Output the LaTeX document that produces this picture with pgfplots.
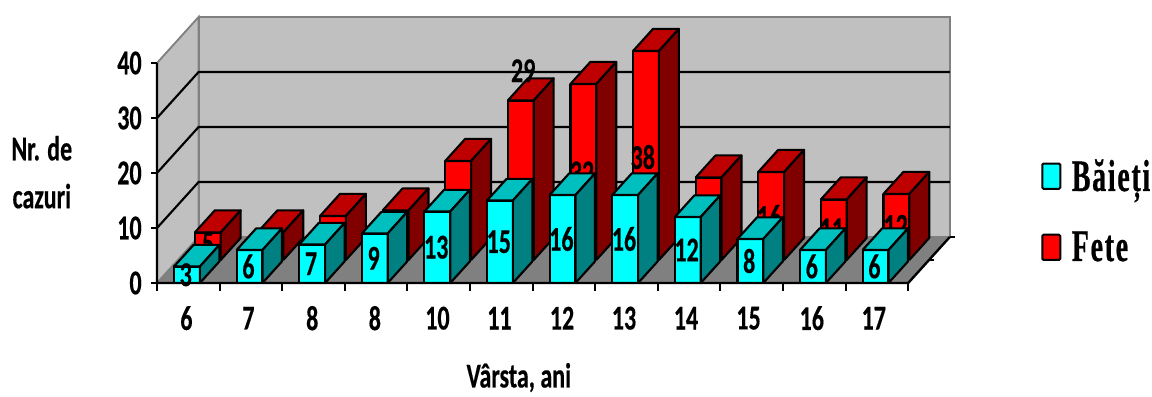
\documentclass[border=0pt]{standalone}
\usepackage{fontspec}
\usepackage{graphicx}
\usepackage{pgfplots}
\pgfplotsset{compat=1.18}
\setmainfont{Carlito}[BoldFeatures={FakeBold=0.5}]
\newfontfamily\legfont{Liberation Serif}[LetterSpace=6,BoldFeatures={FakeBold=0.8}]
\definecolor{wall}{HTML}{C0C0C0}
\definecolor{floorc}{HTML}{808080}
\definecolor{cyanF}{HTML}{00FFFF}
\definecolor{cyanT}{HTML}{00BFBF}
\definecolor{cyanS}{HTML}{008080}
\definecolor{redF}{HTML}{FF0000}
\definecolor{redT}{HTML}{BF0000}
\definecolor{redS}{HTML}{800000}
% tall, narrow bold lettering used for every label of the chart
\newcommand\lab[1]{\scalebox{1}[1.45]{\fontsize{18}{18}\selectfont\bfseries #1}}
% one cuboid: x0 x1 y0 y1 height front top side
\newcommand\cuboid[8]{%
  \addplot3[forget plot,draw=black,line width=1.6pt,line join=round,fill=#6] coordinates {(#1,#3,0)(#2,#3,0)(#2,#3,#5)(#1,#3,#5)(#1,#3,0)};
  \addplot3[forget plot,draw=black,line width=1.6pt,line join=round,fill=#7] coordinates {(#1,#3,#5)(#2,#3,#5)(#2,#4,#5)(#1,#4,#5)(#1,#3,#5)};
  \addplot3[forget plot,draw=black,line width=1.6pt,line join=round,fill=#8] coordinates {(#2,#3,0)(#2,#4,0)(#2,#4,#5)(#2,#3,#5)(#2,#3,0)};
}
% category index and value
\newcommand\redbar[2]{%
  \pgfmathsetmacro\xa{#1+0.272}\pgfmathsetmacro\xb{#1+0.685}%
  \cuboid{\xa}{\xb}{0.5}{0.98}{#2}{redF}{redT}{redS}}
\newcommand\cyanbar[2]{%
  \pgfmathsetmacro\xa{#1+0.272}\pgfmathsetmacro\xb{#1+0.685}%
  \pgfmathsetmacro\xc{#1+0.46}\pgfmathsetmacro\zc{#2/2}%
  \cuboid{\xa}{\xb}{0}{0.47}{#2}{cyanF}{cyanT}{cyanS}
  \edef\putlabel{\noexpand\node at (axis cs:\xc,0,\zc) {\noexpand\lab{#2}};}\putlabel}
\newcommand\cat[2]{\node at (axis cs:#1,0,-6.4) {\lab{#2}};}
\newcommand\val[2]{\node[anchor=east] at (axis cs:-0.17,0,#1) {\lab{#2}};}
\begin{document}
\begin{tikzpicture}
\useasboundingbox (0,0) rectangle (864pt,297pt);
\begin{axis}[
  at={(117.75pt,84.75pt)},anchor=origin,
  x={(46.95pt,0pt)},y={(31.2pt,34.5pt)},z={(0pt,4.125pt)},
  xmin=0,xmax=12,ymin=0,ymax=1,zmin=0,zmax=40,
  hide axis,clip=false,
  legend style={draw=none,fill=none,at={(1.115,0.27)},anchor=west,
    font=\legfont\bfseries\fontsize{21}{21}\selectfont,
    row sep=25pt,inner sep=0pt},
  legend cell align=left,
]
% side wall, back wall and floor
\addplot3[forget plot,draw=floorc,line width=1.4pt,fill=wall] coordinates {(0,0,0)(0,0,40)(0,1,40)(0,1,0)(0,0,0)};
\addplot3[forget plot,draw=floorc,line width=1.4pt,fill=wall] coordinates {(0,1,0)(0,1,40)(12,1,40)(12,1,0)(0,1,0)};
\addplot3[forget plot,draw=none,fill=floorc] coordinates {(0,0,0)(12,0,0)(12,1,0)(0,1,0)(0,0,0)};
% gridlines
\addplot3[forget plot,black,line width=1.6pt] coordinates {(0,0,10)(0,1,10)(12,1,10)};
\addplot3[forget plot,black,line width=1.6pt] coordinates {(0,0,20)(0,1,20)(12,1,20)};
\addplot3[forget plot,black,line width=1.6pt] coordinates {(0,0,30)(0,1,30)(12,1,30)};
% girls
\redbar{0}{5}\redbar{1}{5}\redbar{2}{8}\redbar{3}{9}\redbar{4}{18}\redbar{5}{29}
\redbar{6}{32}\redbar{7}{38}\redbar{8}{15}\redbar{9}{16}\redbar{10}{11}\redbar{11}{12}
\node at (axis cs:0.815,0,7.2) {\lab{5}};
\node at (axis cs:5.85,0,38.6) {\lab{29}};
\node at (axis cs:6.79,0,20) {\lab{32}};
\node at (axis cs:7.76,0,22.9) {\lab{38}};
\node at (axis cs:9.78,0,12) {\lab{16}};
\node at (axis cs:10.78,0,9.7) {\lab{11}};
\node at (axis cs:11.8,0,10.3) {\lab{12}};
% boys
\cyanbar{0}{3}\cyanbar{1}{6}\cyanbar{2}{7}\cyanbar{3}{9}\cyanbar{4}{13}\cyanbar{5}{15}
\cyanbar{6}{16}\cyanbar{7}{16}\cyanbar{8}{12}\cyanbar{9}{8}\cyanbar{10}{6}\cyanbar{11}{6}
% axis lines
\addplot3[forget plot,black,line width=1.8pt] coordinates {(0,0,40)(0,0,0)(12,0,0)(12,1,0)};
\pgfplotsinvokeforeach{0,10,20,30,40}{\addplot3[forget plot,black,line width=1.5pt] coordinates {(-0.09,0,#1)(0,0,#1)};}
\pgfplotsinvokeforeach{0,1,...,12}{\addplot3[forget plot,black,line width=1.5pt] coordinates {(#1,0,0)(#1,0,-1.4)};}
\addplot3[forget plot,black,line width=1.5pt] coordinates {(12,0.5,0)(12.08,0.5,0)};
\addplot3[forget plot,black,line width=1.5pt] coordinates {(12,1,0)(12.09,1,0)};
% tick labels
\val{0}{0}\val{10}{10}\val{20}{20}\val{30}{30}\val{40}{40}
\cat{0.47}{6}\cat{1.46}{7}\cat{2.48}{8}\cat{3.48}{8}\cat{4.48}{10}\cat{5.47}{11}
\cat{6.47}{12}\cat{7.46}{13}\cat{8.45}{14}\cat{9.45}{15}\cat{10.46}{16}\cat{11.45}{17}
% axis titles
\node at (axis cs:-1.84,0,24.5) {\lab{Nr. de}};
\node at (axis cs:-1.84,0,15.8) {\lab{cazuri}};
\node[inner sep=0pt] at (axis cs:5.78,0,-17.2) {\lab{Vârsta, ani}};
\addlegendimage{legend image code/.code={\draw[fill=cyanF,line width=1.5pt,rounded corners=1pt] (0pt,-9.5pt) rectangle (13.5pt,9.5pt);\path (20pt,0pt);}}
\addlegendentry{\scalebox{1}[1.6]{Băieți}}
\addlegendimage{legend image code/.code={\draw[fill=redF,line width=1.5pt,rounded corners=1pt] (0pt,-9.5pt) rectangle (13.5pt,9.5pt);\path (20pt,0pt);}}
\addlegendentry{\scalebox{1}[1.6]{Fete}}
\end{axis}
\end{tikzpicture}
\end{document}
